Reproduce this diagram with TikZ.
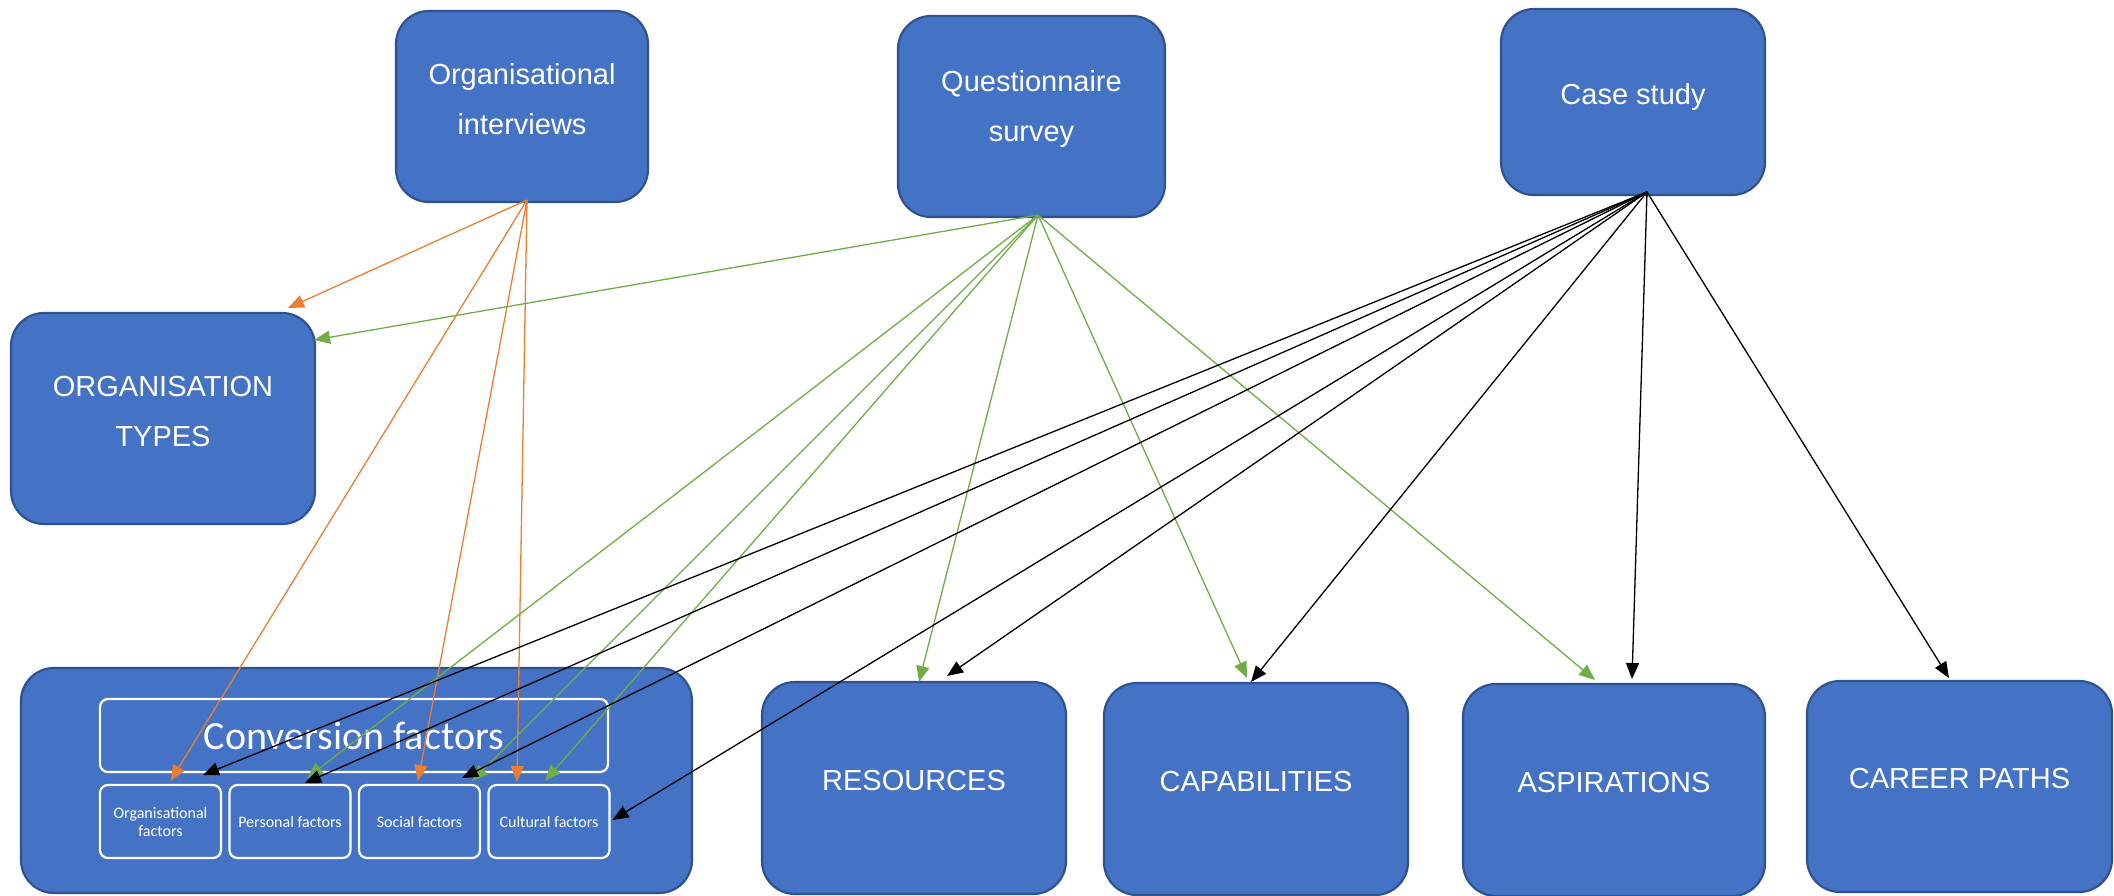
\documentclass[tikz,border=0pt]{standalone}
\usepackage{fontspec}
\setmainfont{Liberation Sans}
\newfontfamily\calibri{Carlito}
\usetikzlibrary{arrows.meta}
\definecolor{boxblue}{HTML}{4472C4}
\definecolor{boxedge}{HTML}{2F528F}
\definecolor{orangeln}{HTML}{ED7D31}
\definecolor{greenln}{HTML}{70AD47}

\begin{document}
\begin{tikzpicture}[x=1pt,y=-1pt,
  box/.style={draw=boxedge, fill=boxblue, line width=2.2pt, rounded corners=33pt,
    inner sep=0pt, outer sep=0pt},
  lbl/.style={text=white, align=center, inner sep=0pt, font=\fontsize{29}{50}\selectfont},
  subbox/.style={draw=white, line width=2.2pt, rounded corners=8pt, inner sep=0pt,
    outer sep=0pt, text=white, align=center},
  factor/.style={subbox, minimum width=121pt, minimum height=73pt,
    font=\calibri\fontsize{16}{18}\selectfont},
  link/.style={line width=1.3pt, -{Triangle[length=16pt,width=13pt]}},
  olink/.style={link, draw=orangeln, fill=orangeln},
  glink/.style={link, draw=greenln, fill=greenln},
  klink/.style={link, draw=black, fill=black},
]
\useasboundingbox (0,0) rectangle (2114,896);

% data sources
\node[box, minimum width=252pt, minimum height=191pt] (oi) at (522,106.5) {};
\node[lbl] (oit) at ([yshift=7pt]oi.center) {Organisational\\interviews};
\node[box, minimum width=267pt, minimum height=201pt] (qs) at (1031.5,116.5) {};
\node[lbl] (qst) at ([yshift=7pt]qs.center) {Questionnaire\\survey};
\node[box, minimum width=264pt, minimum height=186pt] (cs) at (1633,102) {};
\node[lbl] (cst) at ([yshift=5pt]cs.center) {Case study};

% organisation types
\node[box, minimum width=304pt, minimum height=211pt] (ot) at (163,418.5) {};
\node[lbl] (ott) at ([yshift=7pt]ot.center) {ORGANISATION\\TYPES};

% conversion factors group
\node[box, minimum width=671pt, minimum height=225pt] (cf) at (356.5,780.5) {};
\node[subbox, minimum width=508pt, minimum height=73pt,
  font=\calibri\fontsize{40}{42}\selectfont] (cft) at (354,735.5) {Conversion factors};
\node[factor] (sb1) at (160.5,821.5) {Organisational\\factors};
\node[factor] (sb2) at (290,821.5) {Personal factors};
\node[factor] (sb3) at (419.5,821.5) {Social factors};
\node[factor] (sb4) at (549,821.5) {Cultural factors};

% outcome boxes
\node[box, minimum width=304pt, minimum height=212pt] (res) at (914,788) {};
\node[lbl] (rest) at ([yshift=7.5pt]res.center) {RESOURCES};
\node[box, minimum width=304pt, minimum height=212pt] (cap) at (1256,789) {};
\node[lbl] (capt) at ([yshift=7.5pt]cap.center) {CAPABILITIES};
\node[box, minimum width=302pt, minimum height=212pt] (asp) at (1614,790) {};
\node[lbl] (aspt) at ([yshift=7.5pt]asp.center) {ASPIRATIONS};
\node[box, minimum width=305pt, minimum height=211pt] (car) at (1959.5,786.5) {};
\node[lbl] (cart) at ([yshift=7.5pt]car.center) {CAREER PATHS};

% fan-out points
\coordinate (oiout) at ([xshift=5pt,yshift=2pt]oi.south);
\coordinate (qsout) at ([xshift=6.5pt,yshift=2pt]qs.south);
\coordinate (csout) at ([xshift=14pt,yshift=3pt]cs.south);

% organisational interviews
\draw[olink] (oiout) -- ([xshift=-27pt,yshift=5pt]ot.north east);
\draw[olink] (oiout) -- ([xshift=10pt,yshift=4pt]sb1.north);
\draw[olink] (oiout) -- ([xshift=-1.5pt,yshift=4pt]sb3.north);
\draw[olink] (oiout) -- ([xshift=-32pt,yshift=3pt]sb4.north);

% questionnaire survey
\draw[glink] (qsout) -- ([xshift=-1pt,yshift=-27pt]ot.north east);
\draw[glink] (qsout) -- ([xshift=17pt,yshift=7pt]sb2.north);
\draw[glink] (qsout) -- ([xshift=52.5pt,yshift=4pt]sb3.north);
\draw[glink] (qsout) -- ([xshift=-4pt,yshift=4pt]sb4.north);
\draw[glink] (qsout) -- ([xshift=5pt,yshift=0pt]res.north);
\draw[glink] (qsout) -- ([xshift=-9pt,yshift=5pt]cap.north);
\draw[glink] (qsout) -- ([xshift=-19pt,yshift=4pt]asp.north);

% case study
\draw[klink] (csout) -- ([xshift=42.5pt,yshift=10pt]sb1.north);
\draw[klink] (csout) -- ([xshift=15pt,yshift=2pt]sb2.north);
\draw[klink] (csout) -- ([xshift=42.5pt,yshift=7pt]sb3.north);
\draw[klink] (csout) -- ([xshift=3pt,yshift=1.5pt]sb4.east);
\draw[klink] (csout) -- ([xshift=33pt,yshift=6pt]res.north);
\draw[klink] (csout) -- ([xshift=-5pt,yshift=1pt]cap.north);
\draw[klink] (csout) -- ([xshift=18pt,yshift=5pt]asp.north);
\draw[klink] (csout) -- ([xshift=-10.5pt,yshift=3pt]car.north);
\end{tikzpicture}
\end{document}
